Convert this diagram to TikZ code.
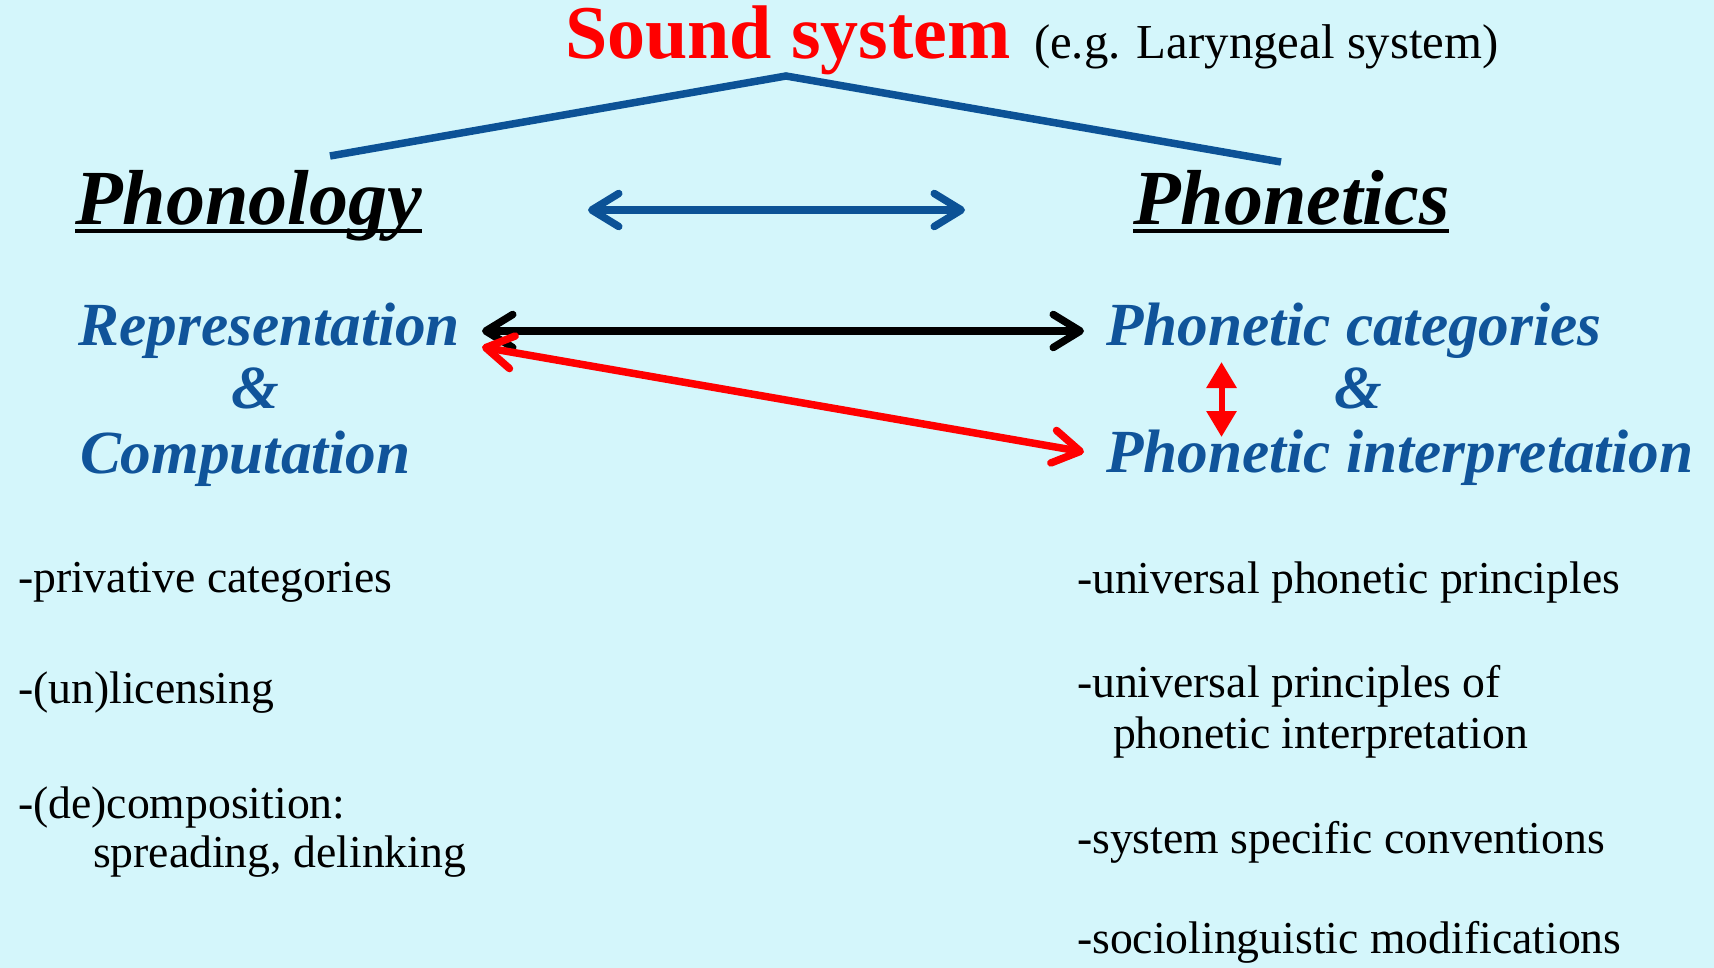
\documentclass[tikz,border=0pt]{standalone}
\usepackage{fontspec}
\setmainfont{Liberation Serif}
\usetikzlibrary{arrows.meta,calc}
\definecolor{bg}{RGB}{212,246,251}
\definecolor{dblue}{RGB}{12,82,150}
\definecolor{tblue}{RGB}{16,84,154}
\definecolor{sred}{RGB}{255,0,0}
\begin{document}
\begin{tikzpicture}[x=1pt,y=-1pt,
  lbl/.style={anchor=base west, inner sep=0pt, outer sep=0pt},
  title/.style={lbl, text=sred, font=\fontsize{76}{80}\selectfont\bfseries},
  sub/.style={lbl, font=\fontsize{48.8}{52}\selectfont},
  headword/.style={lbl, font=\fontsize{78}{82}\selectfont\bfseries\itshape},
  cat/.style={lbl, text=tblue, font=\fontsize{61.3}{64}\selectfont\bfseries\itshape},
  item/.style={lbl, font=\fontsize{45.7}{48}\selectfont},
  barb/.style={line width=7.5pt,
    {Straight Barb[length=27pt,width=33pt,line cap=round,line join=round]}-{Straight Barb[length=27pt,width=33pt,line cap=round,line join=round]}},
  tri/.style={line width=6pt,
    {Triangle[length=26pt,width=29pt]}-{Triangle[length=26pt,width=29pt]}},
  uline/.style={line width=3.3pt}
]
\useasboundingbox (0,0) rectangle (1714,968);
\fill[bg] (0,0) rectangle (1714,968);

% title
\node[title] (sound) at (565,59) {Sound system};
\node[sub] (eg) at (1034,59) {(e.g. Laryngeal system)};

% roof
\coordinate (roofL) at (330,156);
\coordinate (roofP) at (786,76);
\coordinate (roofR) at (1281,162);
\draw[dblue, line width=7.5pt] (roofL) -- (roofP) -- (roofR);

% headwords
\node[headword] (phonology) at (75,225) {Phonology};
\node[headword] (phonetics) at (1133,225) {Phonetics};
\draw[uline] ([yshift=-6pt]phonology.base west) -- ([yshift=-6pt]phonology.base east);
\draw[uline] ([yshift=-6pt]phonetics.base west) -- ([yshift=-6pt]phonetics.base east);

% blue double arrow
\coordinate (bA) at (588,210);
\coordinate (bB) at (965,210);
\draw[barb, dblue] (bA) -- (bB);

% categories
\node[cat] (rep) at (78.5,345) {Representation};
\node[cat] (amp1) at (231.5,408) {\&};
\node[cat] (comp) at (80,473) {Computation};
\node[cat] (pcat) at (1106,345) {Phonetic categories};
\node[cat] (amp2) at (1334,408) {\&};
\node[cat] (pint) at (1106,472) {Phonetic interpretation};

% arrows between categories
\coordinate (kA) at (482,331);
\coordinate (kB) at (1084,331);
\draw[barb, black] (kA) -- (kB);
\coordinate (rA) at (482,347);
\coordinate (rB) at (1084,452);
\draw[barb, sred] (rA) -- (rB);
\coordinate (vA) at (1221.5,362);
\coordinate (vB) at (1221.5,437);
\draw[tri, sred] (vA) -- (vB);

% left list
\node[item] (l1) at (18,592) {-privative categories};
\node[item] (l2) at (18,703) {-(un)licensing};
\node[item] (l3) at (18,818) {-(de)composition:};
\node[item] (l4) at (93,867) {spreading, delinking};

% right list
\node[item] (r1) at (1077,593) {-universal phonetic principles};
\node[item] (r2) at (1077,697) {-universal principles of};
\node[item] (r3) at (1113,748) {phonetic interpretation};
\node[item] (r4) at (1077,853) {-system specific conventions};
\node[item] (r5) at (1077,953) {-sociolinguistic modifications};
\end{tikzpicture}
\end{document}
